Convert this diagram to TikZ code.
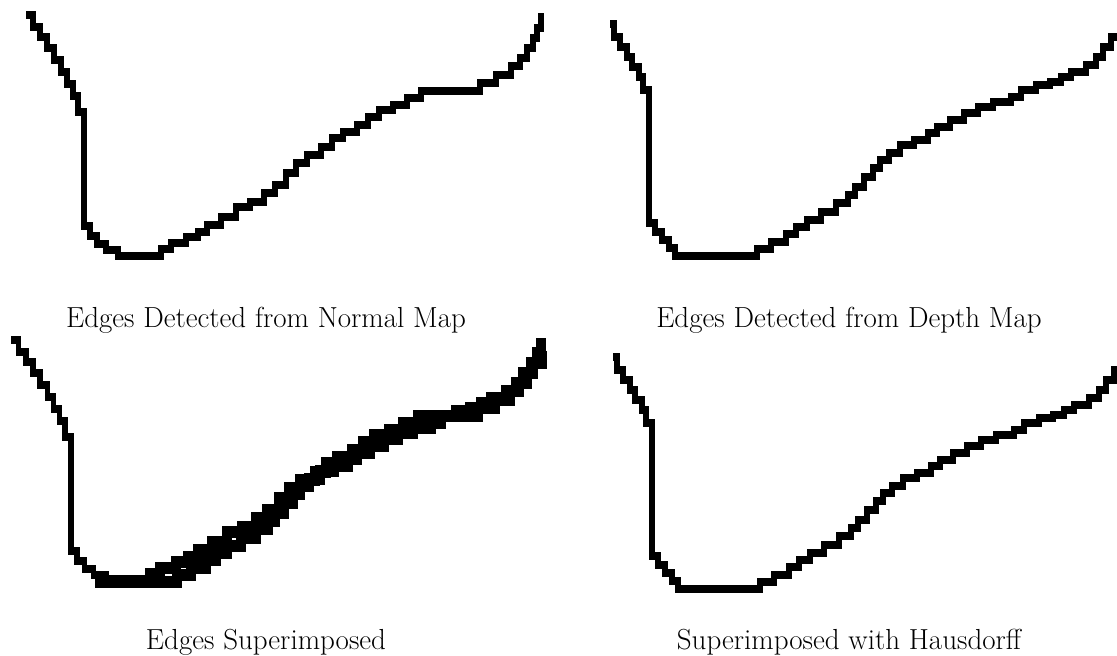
\documentclass[tikz,border=0pt]{standalone}
\begin{document}
% pixel-like coordinates: x to the right, y downwards, 1 unit = 1pt
\newcommand\curveNleft{(26,15) -| (33,27) -| (40,37) -| (47,48) -| (54,60) -| (61,72) -| (67,84) -| (73,96) -| (78,112) -| (84,122) -- (84,226) -| (90,236) -| (97,244) -| (106,250) -| (118,256)}
\newcommand\curveNrise{(118,256) -- (148,256) -| (161,249) -| (171,243) -| (186,237) -| (198,232) -| (207,225) -| (221,217) -| (236,207) -| (250,202) -| (264,193) -| (275,185) -| (286,173) -| (296,163) -| (307,155) -| (321,147) -| (332,138) -| (343,132) -| (357,125) -| (368,117) -| (379,110) -| (393,105) -| (407,98) -| (421,91) -- (465,91) -| (480,83) -| (496,75) -| (511,66) -| (520,58) -| (527,48) -| (533,38) -| (537,28) -| (541,14)}
\newcommand\curveDleft{(610,24) -| (614,37) -| (620,47) -| (627,57) -| (632,67) -| (639,77) -| (643,90) -| (649,103) -- (649,223) -| (655,232) -| (662,240) -| (669,248) -| (675,256)}
\newcommand\curveDrise{(675,256) -- (748,256) -| (757,249) -| (771,242) -| (786,234) -| (796,227) -| (807,220) -| (821,212) -| (836,203) -| (848,195) -| (855,187) -| (864,177) -| (873,168) -| (880,160) -| (889,153) -| (900,145) -| (914,140) -| (928,133) -| (937,127) -| (950,120) -| (964,113) -| (978,107) -| (993,102) -| (1011,97) -| (1021,90) -| (1036,85) -| (1050,82) -| (1061,77) -| (1071,72) -| (1086,65) -| (1096,57) -| (1103,47) -| (1111,37) -| (1122,26)}
% an edge chain: pixels are taller than wide, so the stroke is laid twice, 2pt apart
\newcommand\edgechain[2][]{%
  \draw[edgeline,#1,yshift=1pt] #2;
  \draw[edgeline,#1,yshift=-1pt] #2;}
\begin{tikzpicture}[x=1pt,y=-1pt,
  edgeline/.style={line width=5.6pt, line join=miter, line cap=butt, black},
  band/.style={line width=10pt},
  caption/.style={anchor=base, inner sep=0pt, font=\fontsize{29}{35}\selectfont}]
  \useasboundingbox (0,0) rectangle (1117,656);
  \clip (0,0) rectangle (1117,656);

  % edges from the normal map
  \edgechain{\curveNleft -- \curveNrise}
  % edges from the depth map
  \edgechain{\curveDleft -- \curveDrise}

  % both edge maps laid over each other
  \begin{scope}[shift={(-15.4,325)}, xscale=1.0285]
    \edgechain{\curveNleft}
    \edgechain[band]{\curveNrise}
  \end{scope}
  \begin{scope}[shift={(-580,326)}]
    \edgechain[band]{\curveDrise}
  \end{scope}

  % depth edges used for the Hausdorff comparison
  \begin{scope}[shift={(3,333)}]
    \edgechain{\curveDleft -- \curveDrise}
  \end{scope}

  \node[caption] (capN) at (266,327) {Edges Detected from Normal Map};
  \node[caption] (capD) at (849,327) {Edges Detected from Depth Map};
  \node[caption] (capS) at (266,649) {Edges Superimposed};
  \node[caption] (capH) at (849,649) {Superimposed with Hausdorff};
\end{tikzpicture}
\end{document}
